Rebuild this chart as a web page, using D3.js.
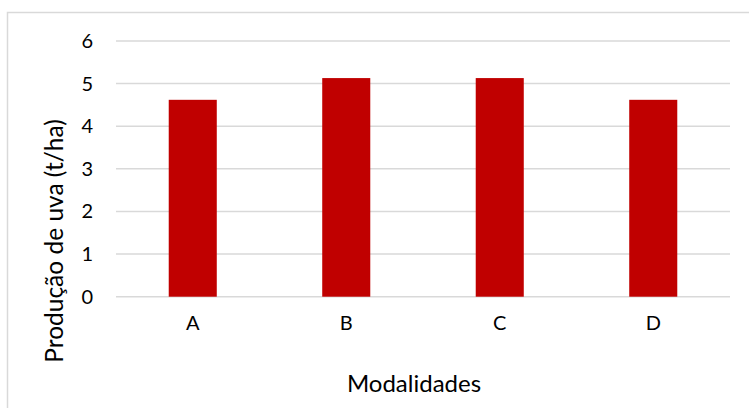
<!DOCTYPE html>
<html>
<head>
<meta charset="utf-8">
<script src="https://cdn.jsdelivr.net/npm/d3@7"></script>
<style>
  html, body { margin: 0; padding: 0; background: #fff; }
  svg { display: block; }
  text { font-family: Lato, "Open Sans", sans-serif; fill: #000; }
</style>
</head>
<body>
<svg id="chart" width="749" height="408"></svg>
<script>
// Grape yield per modality
const categories = ["A", "B", "C", "D"];
const values = [4.62, 5.13, 5.13, 4.62];
const yTicks = [0, 1, 2, 3, 4, 5, 6];
const yTitle = "Produção de uva (t/ha)";
const xTitle = "Modalidades";

const svg = d3.select("#chart");

// chart area frame (continues past the visible window)
svg.append("rect")
  .attr("x", 7.5).attr("y", 12.5)
  .attr("width", 900).attr("height", 600)
  .attr("fill", "#fff")
  .attr("stroke", "#d9d9d9")
  .attr("stroke-width", 1.5);

const plot = { left: 116, right: 730, top: 41, bottom: 296.7 };

const x = d3.scaleBand()
  .domain(categories)
  .range([plot.left, plot.right])
  .paddingInner(0.687)
  .paddingOuter(0.687 / 2);

const y = d3.scaleLinear()
  .domain([0, 6])
  .range([plot.bottom, plot.top]);

// horizontal gridlines
svg.append("g")
  .selectAll("line")
  .data(yTicks)
  .join("line")
  .attr("x1", plot.left).attr("x2", plot.right)
  .attr("y1", d => y(d)).attr("y2", d => y(d))
  .attr("stroke", "#d9d9d9")
  .attr("stroke-width", 1.5);

// y tick labels
const yAxis = d3.axisLeft(y).tickValues(yTicks).tickSize(0).tickPadding(0)
  .tickFormat(d3.format("d"));
const gy = svg.append("g")
  .attr("transform", `translate(${plot.left - 23},0)`)
  .call(yAxis);
gy.select(".domain").remove();
gy.selectAll("text")
  .attr("font-size", 20)
  .attr("font-family", "Lato, 'Open Sans', sans-serif")
  .attr("fill", "#000");

// bars
svg.append("g")
  .selectAll("rect")
  .data(categories.map((c, i) => ({ c, v: values[i] })))
  .join("rect")
  .attr("x", d => x(d.c))
  .attr("width", x.bandwidth())
  .attr("y", d => y(d.v))
  .attr("height", d => y(0) - y(d.v))
  .attr("fill", "#c00000");

// x tick labels
const xAxis = d3.axisBottom(x).tickSize(0).tickPadding(0);
const gx = svg.append("g")
  .attr("transform", `translate(0,${plot.bottom + 19})`)
  .call(xAxis);
gx.select(".domain").remove();
gx.selectAll("text")
  .attr("font-size", 20)
  .attr("font-family", "Lato, 'Open Sans', sans-serif")
  .attr("fill", "#000");

// axis titles
svg.append("text")
  .attr("x", 414).attr("y", 391.5)
  .attr("text-anchor", "middle")
  .attr("font-size", 24)
  .text(xTitle);

svg.append("text")
  .attr("transform", "translate(63,241) rotate(-90)")
  .attr("text-anchor", "middle")
  .attr("font-size", 24.5)
  .text(yTitle);
</script>
</body>
</html>
